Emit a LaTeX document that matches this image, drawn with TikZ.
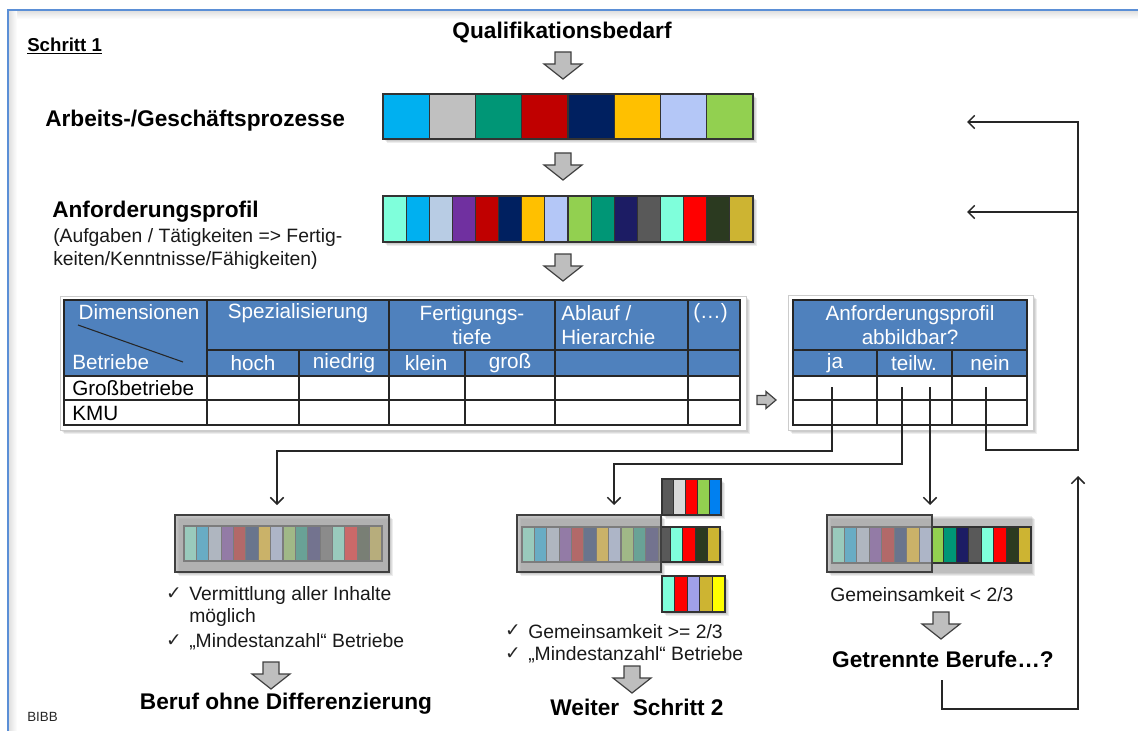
\documentclass[tikz,border=0pt]{standalone}
\usepackage{fontspec}
\setmainfont{Liberation Sans}
\newfontfamily\symfont{DejaVu Sans}
\usetikzlibrary{arrows.meta,fit}

\definecolor{framebl}{RGB}{91,143,214}
\definecolor{hdr}{RGB}{79,129,189}
\definecolor{cAqua}{RGB}{127,255,219}
\definecolor{cCyan}{RGB}{0,176,240}
\definecolor{cSteel}{RGB}{184,204,228}
\definecolor{cPurple}{RGB}{112,48,160}
\definecolor{cDred}{RGB}{192,0,0}
\definecolor{cNavy}{RGB}{0,32,96}
\definecolor{cAmber}{RGB}{255,192,0}
\definecolor{cPeri}{RGB}{180,199,247}
\definecolor{cGreen}{RGB}{146,208,80}
\definecolor{cTeal}{RGB}{0,150,118}
\definecolor{cDnavy}{RGB}{28,28,100}
\definecolor{cDgray}{RGB}{89,89,89}
\definecolor{cRed}{RGB}{255,0,0}
\definecolor{cDgreen}{RGB}{43,58,32}
\definecolor{cOlive}{RGB}{205,180,50}
\definecolor{cSilver}{RGB}{192,192,192}
\definecolor{cLgray}{RGB}{217,217,217}
\definecolor{cBlue}{RGB}{0,128,240}
\definecolor{cLav}{RGB}{160,160,232}
\definecolor{cYellow}{RGB}{255,255,0}
\definecolor{boxgray}{RGB}{170,170,170}
\definecolor{arrgray}{RGB}{190,190,190}

% the sixteen colours of the requirement profile
\def\profcols{cAqua,cCyan,cSteel,cPurple,cDred,cNavy,cAmber,cPeri,cGreen,cTeal,cDnavy,cDgray,cAqua,cRed,cDgreen,cOlive}

% a row of coloured cells: x0, y0, cell width, height, colour list
\newcommand\cellbar[5]{%
  \edef\barlist{#5}%
  \foreach \c [count=\i from 0] in \barlist
    \draw[cellline, fill=\c] ({#1+\i*#3},#2) rectangle ++(#3,#4);}

% soft drop shadow behind a rectangle
\newcommand\softshadow[4]{%
  \foreach \d in {1,...,4}
    \fill[black, opacity=0.07] ({#1+\d},{#2+\d}) rectangle ({#3+\d},{#4+\d});}

\tikzset{
  cellline/.style={draw=black!80, line width=0.8pt},
  grid/.style={draw=black!85, line width=0.8pt},
  blk/.style={fill=arrgray, draw=black!75, line width=0.9pt, line join=miter},
  conn/.style={draw=black!85, line width=1.1pt, -{Straight Barb[length=5pt,width=10pt]}},
  bigbold/.style={font=\bfseries\fontsize{17}{20}\selectfont, inner sep=0pt},
  hd/.style={font=\fontsize{15.5}{17.5}\selectfont, text=white, inner sep=0pt},
  bodytxt/.style={font=\fontsize{15.5}{17.5}\selectfont, text=black, inner sep=0pt},
  note/.style={font=\fontsize{14.5}{17}\selectfont, text=black!90, inner sep=0pt, anchor=west},
  chk/.style={font=\symfont\fontsize{14}{16}\selectfont, inner sep=0pt, text=black!85},
  ovl/.style={fill=boxgray, fill opacity=0.62, draw=black!75, line width=1pt},
  downarrow/.pic={\draw[blk] (-8,0) -- (8,0) -- (8,12) -- (19,12) -- (0,27) -- (-19,12) -- (-8,12) -- cycle;},
  rightarrow/.pic={\draw[blk] (-9,-4.5) -- (0,-4.5) -- (0,-8.5) -- (10,0) -- (0,8.5) -- (0,4.5) -- (-9,4.5) -- cycle;}
}

\begin{document}
\begin{tikzpicture}[x=0.75pt,y=-0.75pt]
\useasboundingbox (0,0) rectangle (1138,731);
\clip (0,0) rectangle (1138,731);

% page frame with a light inner shadow
\shade[top color=black!12, bottom color=white] (9,11) rectangle (1138,19);
\shade[left color=black!12, right color=white] (9,11) rectangle (17,731);
\draw[framebl, line width=1.3pt] (8,760) -- (8,10) -- (1160,10);

% headings
\node[font=\bfseries\fontsize{14}{16}\selectfont, anchor=west, inner sep=0pt] (step) at (27,46) {\underline{Schritt 1}};
\node[bigbold] (qual) at (562,33) {Qualifikationsbedarf};
\node[bigbold, anchor=west] (proc) at (45,121) {Arbeits-/Geschäftsprozesse};
\node[bigbold, anchor=west] (prof) at (52,212) {Anforderungsprofil};
\node[note, anchor=north west, align=left, font=\fontsize{14.5}{17.2}\selectfont] (profsub) at (53,228)
  {(Aufgaben / Tätigkeiten => Fertig-\\keiten/Kenntnisse/Fähigkeiten)};
\node[font=\fontsize{10}{12}\selectfont, anchor=west, inner sep=0pt, text=black!85] (bibb) at (27,717) {BIBB};

% block arrows down the middle
\pic (a1) at (563,52) {downarrow};
\pic (a2) at (563,153) {downarrow};
\pic (a3) at (563,254) {downarrow};

% process bar
\softshadow{383}{94}{753}{139}
\cellbar{383}{94}{46.25}{45}{cCyan,cSilver,cTeal,cDred,cNavy,cAmber,cPeri,cGreen}
\node[fit={(383,94) (753,139)}, inner sep=0pt] (procbar) {};

% requirement profile bar
\softshadow{383}{196}{753}{242}
\cellbar{383}{196}{23.125}{46}{\profcols}
\node[fit={(383,196) (753,242)}, inner sep=0pt] (profbar) {};

% ---------- dimension table ----------
\softshadow{60}{296}{746}{430}
\draw[black!20, fill=white] (60,296) rectangle (746,430);
\fill[hdr] (64,300) rectangle (740,376);
\draw[grid] (64,300) rectangle (740,425);
\draw[grid] (207,350) -- (740,350);
\draw[grid] (64,376) -- (740,376);
\draw[grid] (64,400) -- (740,400);
\foreach \x in {207,389,555,688} \draw[grid] (\x,300) -- (\x,425);
\foreach \x in {299,465} \draw[grid] (\x,350) -- (\x,425);
\draw[grid] (78,325) -- (183,362);

\node[hd] (dim) at (139,312) {Dimensionen};
\node[hd, anchor=west] (betr) at (72,362) {Betriebe};
\node[hd] (spez) at (298,313) {Spezialisierung};
\node[hd, align=center] (fert) at (472,325) {Fertigungs-\\tiefe};
\node[hd, align=left, anchor=west] (abl) at (561,325) {Ablauf /\\Hierarchie};
\node[hd, anchor=west] (more) at (693,313) {(\dots)};
\node[hd] (hoch) at (253,363) {hoch};
\node[hd] (nied) at (344,363) {niedrig};
\node[hd] (klein) at (426,363) {klein};
\node[hd] (gross) at (510,363) {groß};
\node[bodytxt, anchor=west] (gb) at (72,388) {Großbetriebe};
\node[bodytxt, anchor=west] (kmu) at (72,413) {KMU};

% small arrow between the tables
\pic (ra) at (766,400) {rightarrow};

% ---------- mapping table ----------
\softshadow{788}{295}{1033}{430}
\draw[black!20, fill=white] (788,295) rectangle (1033,430);
\fill[hdr] (793,300) rectangle (1027,376);
\draw[grid] (793,300) rectangle (1027,425);
\draw[grid] (793,350) -- (1027,350);
\draw[grid] (793,376) -- (1027,376);
\draw[grid] (793,400) -- (1027,400);
\foreach \x in {877,952} \draw[grid] (\x,350) -- (\x,425);

\node[hd, align=center] (abb) at (910,325) {Anforderungsprofil\\abbildbar?};
\node[hd] (ja) at (835,363) {ja};
\node[hd] (teilw) at (914,363) {teilw.};
\node[hd] (nein) at (990,363) {nein};

% ---------- outcome 1: no differentiation ----------
\softshadow{175}{515}{389}{572}
\cellbar{184}{526}{12.375}{35}{\profcols}
\draw[ovl] (175,515) rectangle (389,572);
\node[fit={(175,515) (389,572)}, inner sep=0pt] (box1) {};
\node[chk] (k1) at (174,594) {✓};
\node[note] (t1) at (189,595) {Vermittlung aller Inhalte};
\node[note] (t1b) at (189,617) {möglich};
\node[chk] (k2) at (174,641) {✓};
\node[note] (t2) at (189,642) {„Mindestanzahl“ Betriebe};
\pic (a4) at (271,662) {downarrow};
\node[bigbold] (res1) at (286,704) {Beruf ohne Differenzierung};

% ---------- outcome 2: common core ----------
\softshadow{517}{515}{661}{572}
\softshadow{662}{479}{721}{515}
\softshadow{661}{527}{720}{562}
\softshadow{662}{576}{725}{612}
\cellbar{522}{527}{12.375}{35}{\profcols}
\draw[ovl] (517,515) rectangle (661,572);
\node[fit={(517,515) (661,572)}, inner sep=0pt] (box2) {};
\cellbar{662}{479}{11.8}{36}{cDgray,cLgray,cRed,cGreen,cBlue}
\cellbar{662}{576}{12.6}{36}{cAqua,cRed,cLav,cOlive,cYellow}
\node[chk] (k3) at (513,631) {✓};
\node[note] (t3) at (528,632) {Gemeinsamkeit >= 2/3};
\node[chk] (k4) at (513,654) {✓};
\node[note] (t4) at (528,655) {„Mindestanzahl“ Betriebe};
\pic (a5) at (632,666) {downarrow};
\node[bigbold] (res2) at (637,707) {Weiter\hspace{0.6em}Schritt 2};

% ---------- outcome 3: separate occupations ----------
\softshadow{827}{515}{1031}{572}
\cellbar{832}{527}{12.4375}{36}{\profcols}
\draw[ovl] (827,515) rectangle (932,572);
\node[fit={(827,515) (932,572)}, inner sep=0pt] (box3) {};
\node[note] (t5) at (830,595) {Gemeinsamkeit < 2/3};
\pic (a6) at (941,612) {downarrow};
\node[bigbold] (res3) at (943,659) {Getrennte Berufe\dots?};

% ---------- connectors ----------
\coordinate (jaS) at (832,387);
\coordinate (tlS) at (902,387);
\coordinate (trS) at (930,387);
\coordinate (neS) at (986,387);
\coordinate (in1) at (277,505);
\coordinate (in2) at (614,505);
\coordinate (in3) at (930,505);
\coordinate (fbA) at (967,122);
\coordinate (fbB) at (967,212);
\coordinate (rail) at (1078,450);
\coordinate (fbIn) at (1078,476);
\coordinate (gS) at (942,680);

\draw[conn] (jaS) -- ++(0,64) -| (in1);
\draw[conn] (tlS) -- ++(0,77) -| (in2);
\draw[conn] (trS) -- (in3);
\draw[conn] (neS) |- (rail) |- (fbA);
\draw[conn] (rail |- fbB) -- (fbB);
\draw[conn] (gS) -- ++(0,29) -| (fbIn);
\end{tikzpicture}
\end{document}
